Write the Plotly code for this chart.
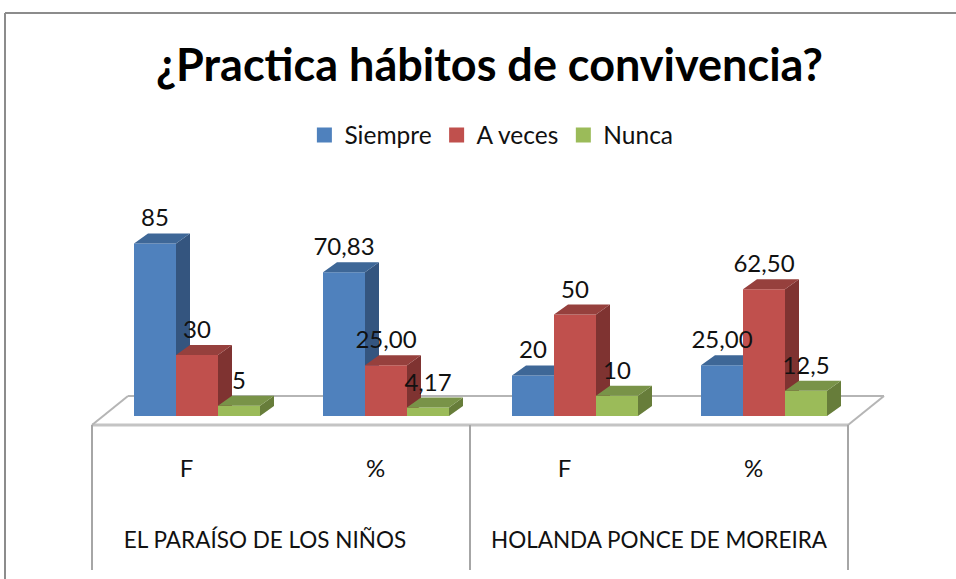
import plotly.graph_objects as go

categories = ['F', '%', 'F', '%']
groups = ['EL PARAÍSO DE LOS NIÑOS', 'HOLANDA PONCE DE MOREIRA']
series_names = ['Siempre', 'A veces', 'Nunca']
siempre = [85, 70.83, 20, 25]
a_veces = [30, 25, 50, 62.5]
nunca = [5, 4.17, 10, 12.5]
siempre_text = ['85', '70,83', '20', '25,00']
a_veces_text = ['30', '25,00', '50', '62,50']
nunca_text = ['5', '4,17', '10', '12,5']

W, H = 956, 579
PX_X = 189.0    # pixels per category
PX_Y = 2.03     # pixels per value unit
X0, Y0 = 186.5, 416.0   # pixel position of category 0 / value 0

def ux(px):
    return px / PX_X

def uy(px):
    return px / PX_Y

BAR_W = ux(42)
SHIFT = ux(10.5)
DX, DY = ux(14), uy(10)
FONT = 'Lato'
LINE = '#b5b5b5'

styles = [
    ('#4F81BD', '#34557F', '#3E6797'),
    ('#C0504D', '#7F3331', '#96403D'),
    ('#9BBB59', '#677D3A', '#799348'),
]
values = [siempre, a_veces, nunca]
texts = [siempre_text, a_veces_text, nunca_text]
xs = list(range(len(categories)))

fig = go.Figure()
for k, name in enumerate(series_names):
    front, side, top = styles[k]
    fig.add_trace(go.Bar(x=[i + SHIFT for i in xs], y=values[k], name=name, marker_color=front,
                         marker_line_width=0, zorder=k + 1, showlegend=False))
    # empty trace, only so the legend swatch is as big as in the original
    fig.add_trace(go.Scatter(x=[None], y=[None], mode='markers', name=name,
                             marker=dict(symbol='square', size=15, color=front)))
    side_x, side_y, top_x, top_y = [], [], [], []
    for i, v in zip(xs, values[k]):
        left = i + SHIFT + (k - 1.5) * BAR_W
        right = left + BAR_W
        side_x += [right, right + DX, right + DX, right, None]
        side_y += [0, DY, v + DY, v, None]
        top_x += [left, left + DX, right + DX, right, None]
        top_y += [v, v + DY, v + DY, v, None]
    for fx, fy, color in [(side_x, side_y, side), (top_x, top_y, top)]:
        fig.add_trace(go.Scatter(x=fx, y=fy, mode='lines', fill='toself', fillcolor=color, line_width=0,
                                 showlegend=False, hoverinfo='skip', zorder=k + 1))

# data labels sit above the front of each bar
for k in range(3):
    fig.add_trace(go.Scatter(x=[i + SHIFT + (k - 1) * BAR_W for i in xs],
                             y=[v + uy(23) for v in values[k]],
                             mode='text', text=texts[k], textposition='middle center',
                             textfont=dict(family=FONT, size=24, color='#111111'),
                             showlegend=False, hoverinfo='skip', zorder=5))

# category and group labels under the floor
fig.add_trace(go.Scatter(x=xs, y=[uy(-55)] * 4, mode='text', text=categories, textposition='middle center',
                         textfont=dict(family=FONT, size=24, color='#111111'),
                         showlegend=False, hoverinfo='skip', zorder=5))
fig.add_trace(go.Scatter(x=[ux(265 - X0), ux(659 - X0)], y=[uy(-126)] * 2, mode='text', text=groups,
                         textposition='middle center', textfont=dict(family=FONT, size=22.5, color='#111111'),
                         showlegend=False, hoverinfo='skip', zorder=5))

# floor and separators
floor_l, floor_r, floor_y = ux(92 - X0), ux(848 - X0), uy(-9)
back_dx, back_dy = ux(36), uy(29)
shapes = [
    dict(type='line', x0=floor_l, x1=floor_r, y0=floor_y, y1=floor_y, line=dict(color='#c4c4c4', width=3)),
    dict(type='line', x0=floor_l + back_dx, x1=floor_r + back_dx, y0=floor_y + back_dy, y1=floor_y + back_dy,
         line=dict(color=LINE, width=2)),
    dict(type='line', x0=floor_l, x1=floor_l + back_dx, y0=floor_y, y1=floor_y + back_dy,
         line=dict(color=LINE, width=2)),
    dict(type='line', x0=floor_r, x1=floor_r + back_dx, y0=floor_y, y1=floor_y + back_dy,
         line=dict(color=LINE, width=2)),
]
for sep in [92, 470, 848]:
    shapes.append(dict(type='line', x0=ux(sep - X0), x1=ux(sep - X0), y0=floor_y, y1=uy(416 - 570),
                       line=dict(color='#a6a6a6', width=2)))
# outer chart frame
shapes.append(dict(type='line', xref='paper', yref='paper', x0=5 / W, x1=5 / W, y0=0, y1=1 - 13 / H,
                   line=dict(color='#8c8c8c', width=2)))
shapes.append(dict(type='line', xref='paper', yref='paper', x0=5 / W, x1=1, y0=1 - 13 / H, y1=1 - 13 / H,
                   line=dict(color='#8c8c8c', width=2)))
for s in shapes:
    s['layer'] = 'below'

fig.update_layout(
    width=W, height=H, margin=dict(l=0, r=0, t=0, b=0),
    paper_bgcolor='white', plot_bgcolor='white',
    barmode='group', bargap=1 - 3 * BAR_W, bargroupgap=0,
    title=dict(text='<b>¿Practica hábitos de convivencia?</b>', x=0.512, xanchor='center', y=1 - 65 / H,
               yanchor='middle', font=dict(family=FONT, size=45, color='black')),
    legend=dict(orientation='h', x=0.514, xanchor='center', y=1 - 135 / H, yanchor='middle',
                font=dict(family=FONT, size=24.5, color='#111111'), itemwidth=30, bgcolor='rgba(0,0,0,0)'),
    xaxis=dict(range=[-X0 / PX_X, (W - X0) / PX_X], visible=False, fixedrange=True),
    yaxis=dict(range=[-(H - Y0) / PX_Y, Y0 / PX_Y], visible=False, fixedrange=True),
    shapes=shapes,
)

fig.write_html('out.html', config={'displayModeBar': False}, post_script="document.body.style.margin='0';")
